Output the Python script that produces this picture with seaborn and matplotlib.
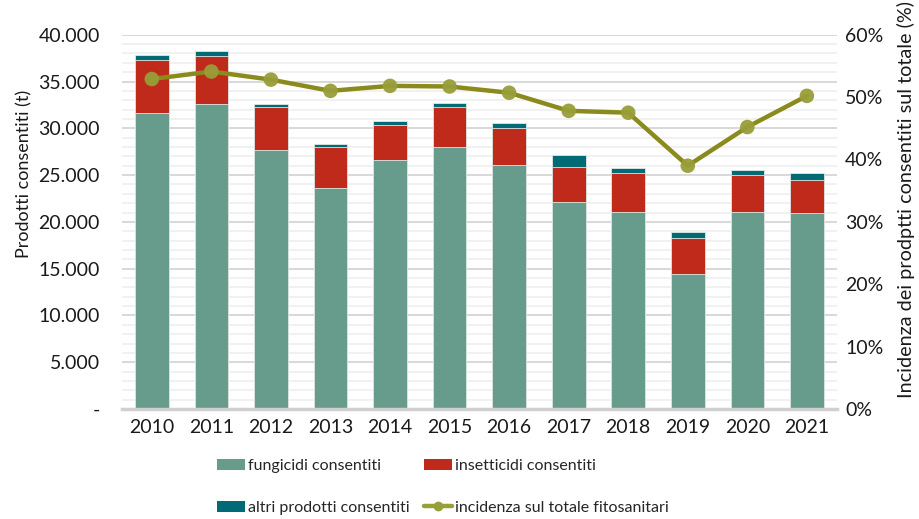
import matplotlib
matplotlib.use("Agg")
import matplotlib.pyplot as plt
import seaborn as sns
import pandas as pd
from matplotlib.patches import Patch
from matplotlib.lines import Line2D
from matplotlib.ticker import MultipleLocator, FuncFormatter

years = ["2010", "2011", "2012", "2013", "2014", "2015", "2016", "2017", "2018", "2019", "2020", "2021"]
fungicidi = [31630, 32590, 27680, 23580, 26580, 28000, 26070, 22150, 21080, 14460, 21080, 20910]
insetticidi = [5700, 5170, 4560, 4450, 3740, 4240, 3990, 3740, 4140, 3850, 3890, 3590]
altri = [500, 500, 350, 290, 490, 460, 470, 1220, 500, 600, 570, 720]
incidenza = [52.9, 54.1, 52.8, 51.0, 51.8, 51.7, 50.7, 47.8, 47.5, 39.0, 45.2, 50.2]

labels = ["fungicidi consentiti", "insetticidi consentiti",
          "altri prodotti consentiti", "incidenza sul totale fitosanitari"]

C_GREEN = "#679C8D"
C_RED = "#BF2A1A"
C_TEAL = "#016B75"
C_LINE = "#8A8B1C"
C_MARK = "#989E38"

sns.set_theme(style="white")
FONT = ["Lato", "DejaVu Sans"]
plt.rcParams["font.family"] = FONT
FS = 14
FS_LEG = 11.5

df = pd.DataFrame({"anno": years, "fung": fungicidi, "ins": insetticidi, "altri": altri, "inc": incidenza})
df["lev2"] = df["fung"] + df["ins"]
df["lev3"] = df["lev2"] + df["altri"]

fig = plt.figure(figsize=(9.19, 5.19), dpi=100)
ax = fig.add_axes([0.1328, 0.2119, 0.7776, 0.7212])

W = 0.565
sns.barplot(data=df, x="anno", y="lev3", color=C_TEAL, saturation=1, width=W, ax=ax,
            edgecolor="#dfe9e6", linewidth=0.6, errorbar=None)
sns.barplot(data=df, x="anno", y="lev2", color=C_RED, saturation=1, width=W, ax=ax,
            edgecolor="#dfe9e6", linewidth=0.6, errorbar=None)
sns.barplot(data=df, x="anno", y="fung", color=C_GREEN, saturation=1, width=W, ax=ax,
            edgecolor="#dfe9e6", linewidth=0.6, errorbar=None)

ax.set_ylim(0, 40000)
ax.set_xlim(-0.5, 11.5)
ax.yaxis.set_major_locator(MultipleLocator(5000))
ax.yaxis.set_minor_locator(MultipleLocator(1000))
ax.yaxis.set_major_formatter(FuncFormatter(lambda v, p: "-" if v == 0 else f"{int(v):,}".replace(",", ".")))
ax.grid(axis="y", which="major", color="#D6D6D6", linewidth=1.3, zorder=0)
ax.grid(axis="y", which="minor", color="#F0F0F0", linewidth=1.3, zorder=0)
ax.set_axisbelow(True)
for s in ["top", "left", "right"]:
    ax.spines[s].set_visible(False)
ax.spines["bottom"].set_color("#D0D0D0")
ax.spines["bottom"].set_linewidth(2.5)
ax.tick_params(axis="both", which="both", length=0, labelsize=FS, colors="#1a1a1a")
ax.tick_params(axis="x", pad=7)
ax.tick_params(axis="y", pad=16)
ax.set_xlabel("")
ax.set_ylabel("Prodotti consentiti (t)", fontsize=13, color="#1a1a1a")
ax.yaxis.set_label_coords(-0.126, 0.628)

ax2 = ax.twinx()
sns.pointplot(data=df, x="anno", y="inc", color=C_LINE, ax=ax2, markers="o",
              linewidth=3.2, markersize=0, errorbar=None)
ax2.scatter(range(len(years)), incidenza, s=110, color=C_MARK, zorder=5, edgecolors="none", alpha=0.95)
ax2.set_ylim(0, 60)
ax2.set_xlim(-0.5, 11.5)
ax2.yaxis.set_major_locator(MultipleLocator(10))
ax2.yaxis.set_major_formatter(FuncFormatter(lambda v, p: f"{int(v)}%"))
ax2.grid(False)
for s in ["top", "left", "right", "bottom"]:
    ax2.spines[s].set_visible(False)
ax2.tick_params(axis="y", length=0, labelsize=FS, colors="#1a1a1a", pad=6)
ax2.set_ylabel("Incidenza dei prodptti consentiti sul totale (%)", fontsize=14.3, color="#1a1a1a")
ax2.yaxis.set_label_coords(1.0844, 0.561)
ax2.set_xlabel("")

handles = [
    Patch(facecolor=C_GREEN, edgecolor="none"),
    Patch(facecolor=C_RED, edgecolor="none"),
    Patch(facecolor=C_TEAL, edgecolor="none"),
    Line2D([0], [0], color=C_MARK, lw=3.2, marker="o", markersize=6, markerfacecolor=C_MARK),
]
# legend entries: (handle, label, anchor x, anchor y) in figure fraction
anchors = [(0.2361, 0.1021), (0.4614, 0.1021), (0.2361, 0.0212), (0.4614, 0.0212)]
for h, lab, (bx, by) in zip(handles, labels, anchors):
    leg = fig.legend([h], [lab], loc="center left", bbox_to_anchor=(bx, by),
                     frameon=False, fontsize=FS_LEG, handlelength=1.75, handleheight=0.75,
                     handletextpad=0.2, borderaxespad=0, borderpad=0)

fig.savefig("out.png", dpi=100)
